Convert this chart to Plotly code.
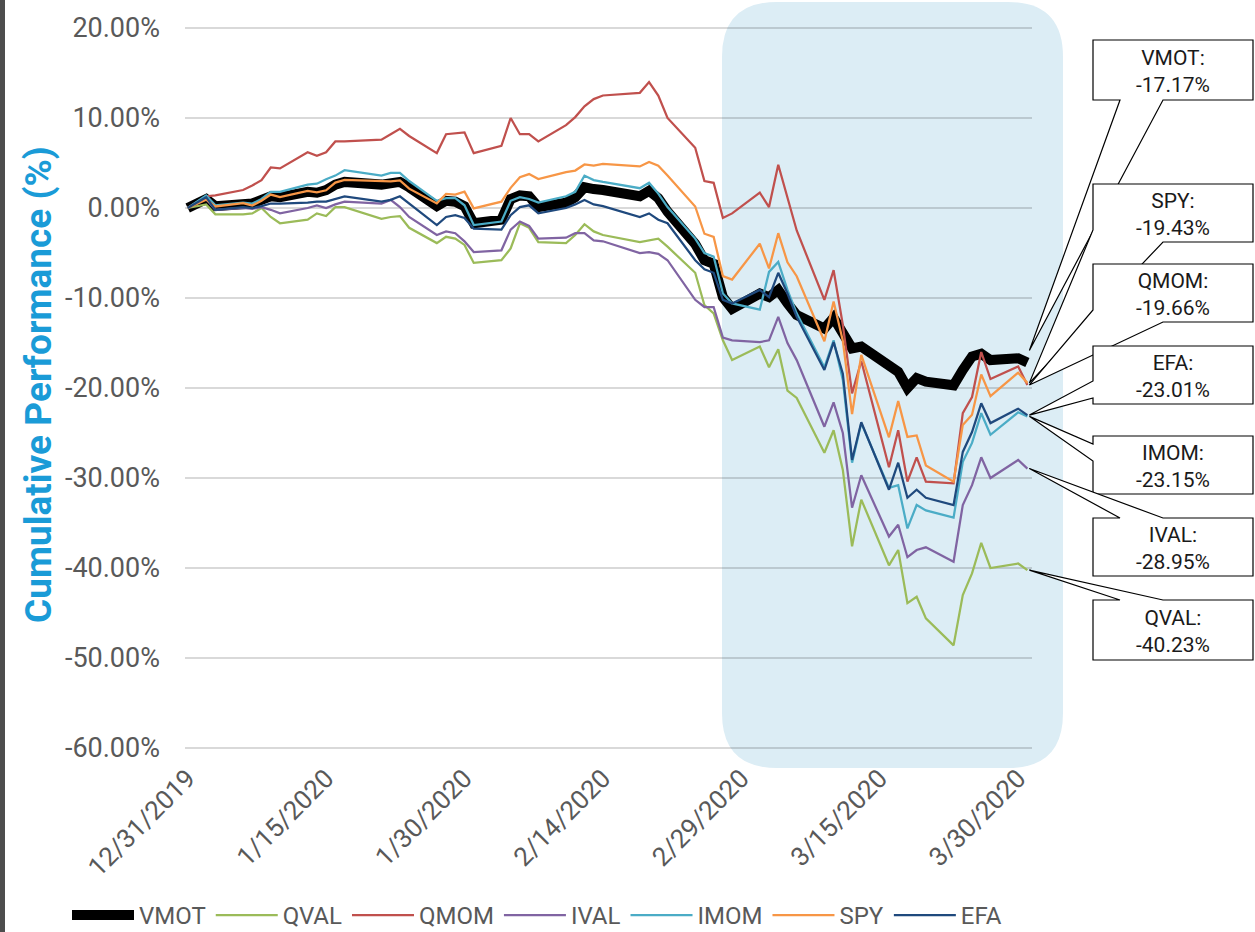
import plotly.graph_objects as go
import pandas as pd

# ---------------- data ----------------
dates = [
    "2019-12-31",
    "2020-01-02", "2020-01-03", "2020-01-06", "2020-01-07", "2020-01-08", "2020-01-09", "2020-01-10",
    "2020-01-13", "2020-01-14", "2020-01-15", "2020-01-16", "2020-01-17", "2020-01-21", "2020-01-22",
    "2020-01-23", "2020-01-24", "2020-01-27", "2020-01-28", "2020-01-29", "2020-01-30", "2020-01-31",
    "2020-02-03", "2020-02-04", "2020-02-05", "2020-02-06", "2020-02-07", "2020-02-10", "2020-02-11",
    "2020-02-12", "2020-02-13", "2020-02-14", "2020-02-18", "2020-02-19", "2020-02-20", "2020-02-21",
    "2020-02-24", "2020-02-25", "2020-02-26", "2020-02-27", "2020-02-28",
    "2020-03-02", "2020-03-03", "2020-03-04", "2020-03-05", "2020-03-06", "2020-03-09", "2020-03-10",
    "2020-03-11", "2020-03-12", "2020-03-13", "2020-03-16", "2020-03-17", "2020-03-18", "2020-03-19",
    "2020-03-20", "2020-03-23", "2020-03-24", "2020-03-25", "2020-03-26", "2020-03-27", "2020-03-30",
    "2020-03-31",
]

vmot = [0.0,
        1.0, 0.2, 0.5, 0.5, 0.9, 1.3, 1.2, 1.8, 1.7, 2.0, 2.6, 2.9, 2.6, 2.7, 2.9, 2.3, 0.2, 0.8, 0.7, 0.2, -1.7,
        -1.3, 1.0, 1.4, 1.3, 0.1, 0.6, 1.2, 2.3, 2.1, 2.0, 1.3, 1.9, 1.1, -0.4, -4.0, -5.8, -6.2, -9.9, -11.2,
        -9.5, -9.9, -9.1, -10.6, -11.9, -13.4, -12.2, -13.9, -15.6, -15.4, -17.7, -18.2, -20.0, -18.9, -19.3,
        -19.7, -18.0, -16.5, -16.2, -16.9, -16.7, -17.17]

qval = [0.0,
        0.4, -0.7, -0.7, -0.6, 0.0, -1.0, -1.7, -1.3, -0.6, -0.9, 0.1, 0.1, -1.2, -1.0, -0.9, -2.2, -3.9, -3.2, -3.4, -4.1, -6.1,
        -5.8, -4.5, -1.7, -2.2, -3.8, -3.9, -3.0, -1.8, -2.6, -3.0, -3.8, -3.6, -3.4, -4.3, -7.2, -10.8, -11.7, -14.7, -16.9,
        -15.4, -17.7, -15.7, -20.3, -21.1, -27.2, -24.7, -29.1, -37.6, -32.4, -39.7, -38.0, -43.9, -43.2, -45.6,
        -48.6, -43.0, -40.6, -37.2, -40.0, -39.5, -40.23]

qmom = [0.0,
        1.3, 1.4, 2.0, 2.5, 3.1, 4.5, 4.4, 6.2, 5.8, 6.2, 7.4, 7.4, 7.6, 8.2, 8.8, 8.0, 6.1, 8.2, 8.3, 8.4, 6.1,
        6.9, 10.0, 8.2, 8.2, 7.4, 9.2, 10.1, 11.3, 12.1, 12.5, 12.8, 14.0, 12.5, 10.0, 6.7, 3.0, 2.8, -1.1, -0.6,
        1.7, 0.1, 4.8, 1.0, -2.5, -10.2, -6.9, -13.0, -20.6, -17.0, -28.8, -24.7, -30.4, -27.7, -30.4,
        -30.6, -22.8, -21.0, -16.0, -19.0, -17.6, -19.66]

ival = [0.0,
        1.0, -0.2, 0.0, -0.1, 0.1, -0.2, -0.6, 0.0, 0.3, 0.0, 0.4, 0.7, 0.5, 0.9, 0.1, -1.0, -3.0, -2.6, -2.8, -3.7, -4.9,
        -4.7, -2.4, -1.5, -2.0, -3.4, -3.3, -2.8, -2.8, -3.6, -3.7, -5.0, -4.9, -5.1, -5.8, -10.2, -11.0, -11.0, -14.4, -14.7,
        -14.9, -14.7, -12.1, -15.0, -16.9, -24.3, -21.6, -25.0, -33.3, -29.7, -36.5, -35.2, -38.8, -38.0, -37.7,
        -39.3, -33.0, -30.8, -27.7, -30.0, -28.0, -28.95]

imom = [0.0,
        1.4, 0.3, 0.6, 0.5, 1.0, 1.8, 1.8, 2.6, 2.7, 3.2, 3.6, 4.2, 3.6, 3.9, 3.9, 3.0, 0.8, 1.1, 1.1, 0.3, -1.9,
        -1.5, 0.8, 1.2, 1.0, 0.6, 1.3, 1.8, 3.6, 3.1, 2.9, 2.2, 2.8, 1.6, 0.1, -3.4, -5.0, -5.4, -9.5, -10.6,
        -11.3, -7.1, -6.0, -9.1, -11.7, -17.7, -14.7, -19.1, -28.3, -23.9, -31.1, -30.8, -35.6, -33.0, -33.6,
        -34.4, -28.2, -26.1, -22.8, -25.2, -22.7, -23.15]

spy = [0.0,
       0.93, 0.17, 0.55, 0.27, 0.81, 1.49, 1.20, 1.89, 1.74, 1.97, 2.82, 3.13, 2.93, 2.95, 3.06, 2.15, 0.51, 1.56, 1.48, 1.81, -0.04,
       0.70, 2.24, 3.42, 3.77, 3.21, 3.98, 4.16, 4.84, 4.70, 4.89, 4.62, 5.12, 4.69, 3.61, 0.17, -2.86, -3.22, -7.57, -7.95,
       -3.97, -6.72, -2.80, -6.03, -7.58, -14.80, -10.39, -14.76, -22.91, -16.32, -25.48, -21.46, -25.43, -25.27, -28.6,
       -30.4, -24.1, -22.97, -18.5, -20.9, -18.3, -19.43]

efa = [0.0,
       1.2, -0.2, 0.1, 0.0, 0.2, 0.5, 0.5, 0.6, 0.7, 0.7, 1.0, 1.3, 0.7, 0.9, 1.3, 0.5, -1.9, -1.0, -0.8, -1.1, -2.3,
       -2.4, -0.8, 0.1, 0.3, -0.6, 0.0, 0.4, 0.9, 0.4, 0.2, -1.0, -0.6, -1.3, -1.7, -5.8, -6.8, -7.2, -10.2, -10.6,
       -9.1, -9.9, -7.2, -9.5, -12.1, -18.0, -14.9, -18.4, -28.0, -23.8, -31.3, -28.3, -32.2, -31.3, -32.2,
       -33.0, -27.1, -24.9, -21.7, -23.9, -22.3, -23.01]

series_names = ["VMOT", "QVAL", "QMOM", "IVAL", "IMOM", "SPY", "EFA"]

x_tick_dates = ["2019-12-31", "2020-01-15", "2020-01-30", "2020-02-14", "2020-02-29", "2020-03-15", "2020-03-30"]
x_tick_labels = ["12/31/2019", "1/15/2020", "1/30/2020", "2/14/2020", "2/29/2020", "3/15/2020", "3/30/2020"]
y_tick_values = [20, 10, 0, -10, -20, -30, -40, -50, -60]
y_tick_labels = ["20.00%", "10.00%", "0.00%", "-10.00%", "-20.00%", "-30.00%", "-40.00%", "-50.00%", "-60.00%"]

callout_order = ["VMOT", "SPY", "QMOM", "EFA", "IMOM", "IVAL", "QVAL"]

# ---------------- styles / layout ----------------
FONT = "Roboto, Arial, sans-serif"
GREY = "#595959"
W, H = 1255, 932
ML, MR, MT, MB = 185, 223, 19, 175
PW, PH = W - ML - MR, H - MT - MB
X_RANGE = ("2019-12-30 17:00", "2020-03-31 12:00")
Y_RANGE = (-61, 21)

styles = {
    "VMOT": ("#000000", 10),
    "QVAL": ("#9BBB59", 2.25),
    "QMOM": ("#C0504D", 2.25),
    "IVAL": ("#8064A2", 2.25),
    "IMOM": ("#4BACC6", 2.25),
    "SPY": ("#F79646", 2.25),
    "EFA": ("#1F497D", 2.25),
}
values = {"VMOT": vmot, "QVAL": qval, "QMOM": qmom, "IVAL": ival,
          "IMOM": imom, "SPY": spy, "EFA": efa}

# callout box geometry in pixels: (top, bottom, wedge kind, tip dy)
callout_geom = {
    "VMOT": (40, 100, "bottom", -12),
    "SPY": (184, 242, "corner", 0),
    "QMOM": (264, 322, "corner", 0),
    "EFA": (346, 404, "left", 0),
    "IMOM": (436, 494, "left2", 0),
    "IVAL": (518, 576, "top", 0),
    "QVAL": (600, 660, "top", 0),
}
BX0, BX1 = 1093, 1253


def px_x(px):
    return (px - ML) / PW


def px_y(py):
    return (MT + PH - py) / PH


t0, t1 = pd.Timestamp(X_RANGE[0]), pd.Timestamp(X_RANGE[1])


def data_px(date, v):
    frac = (pd.Timestamp(date) - t0) / (t1 - t0)
    return ML + frac * PW, MT + (Y_RANGE[1] - v) / (Y_RANGE[1] - Y_RANGE[0]) * PH


fig = go.Figure()
for name in series_names:
    color, width = styles[name]
    fig.add_trace(go.Scatter(
        x=dates, y=values[name], name=name, mode="lines",
        line=dict(color=color, width=width, shape="linear"),
        hoverinfo="skip",
    ))

shapes = []
# left dark strip (screenshot edge)
shapes.append(dict(type="rect", xref="paper", yref="paper",
                   x0=px_x(0), x1=px_x(5), y0=px_y(H + 5), y1=px_y(-5),
                   fillcolor="#4d4d4d", line=dict(width=0), layer="below"))

# shaded rounded region
sx0, sx1, sy0, sy1, r = 722, 1063, 2, 768, 55


def P(x, y):
    return f"{px_x(x):.5f},{px_y(y):.5f}"


rr = (f"M {P(sx0 + r, sy0)} L {P(sx1 - r, sy0)} Q {P(sx1, sy0)} {P(sx1, sy0 + r)} "
      f"L {P(sx1, sy1 - r)} Q {P(sx1, sy1)} {P(sx1 - r, sy1)} "
      f"L {P(sx0 + r, sy1)} Q {P(sx0, sy1)} {P(sx0, sy1 - r)} "
      f"L {P(sx0, sy0 + r)} Q {P(sx0, sy0)} {P(sx0 + r, sy0)} Z")
shapes.append(dict(type="path", xref="paper", yref="paper", path=rr,
                   fillcolor="#DCEDF5", line=dict(width=0), layer="below"))

annotations = []
for name in callout_order:
    top, bot, kind, tdy = callout_geom[name]
    tx, ty = data_px(dates[-1], values[name][-1])
    ty += tdy
    tx += 2
    tip = P(tx, ty)
    if kind == "bottom":
        path = (f"M {P(BX0, top)} L {P(BX1, top)} L {P(BX1, bot)} L {P(BX0 + 70, bot)} "
                f"L {tip} L {P(BX0 + 27, bot)} L {P(BX0, bot)} Z")
    elif kind == "corner":
        path = (f"M {P(BX0, top)} L {P(BX1, top)} L {P(BX1, bot)} L {P(BX0 + 70, bot)} "
                f"L {tip} L {P(BX0, bot - 12)} Z")
    elif kind == "left":
        path = (f"M {P(BX0, top)} L {P(BX1, top)} L {P(BX1, bot)} L {P(BX0, bot)} "
                f"L {P(BX0, top + 52)} L {tip} L {P(BX0, top + 35)} Z")
    elif kind == "left2":
        path = (f"M {P(BX0, top)} L {P(BX1, top)} L {P(BX1, bot)} L {P(BX0, bot)} "
                f"L {P(BX0, top + 25)} L {tip} L {P(BX0, top + 8)} Z")
    else:  # top
        path = (f"M {P(BX0, top)} L {P(BX0 + 27, top)} L {tip} L {P(BX0 + 70, top)} "
                f"L {P(BX1, top)} L {P(BX1, bot)} L {P(BX0, bot)} Z")
    shapes.append(dict(type="path", xref="paper", yref="paper", path=path,
                       fillcolor="white", line=dict(color="#000000", width=1.2),
                       layer="above"))
    annotations.append(dict(
        xref="paper", yref="paper", x=px_x((BX0 + BX1) / 2), y=px_y((top + bot) / 2 + 1),
        xanchor="center", yanchor="middle", showarrow=False,
        text=f"{name}:<br>{values[name][-1]:.2f}%",
        font=dict(family=FONT, size=21, color="#1a1a1a"),
    ))

# y axis title
annotations.append(dict(
    xref="paper", yref="paper", x=px_x(38), y=px_y(385), xanchor="center", yanchor="middle",
    showarrow=False, textangle=-90, text="<b>Cumulative Performance (%)</b>",
    font=dict(family=FONT, size=37, color="#1A9BD7"),
))

fig.update_layout(
    width=W, height=H,
    margin=dict(l=ML, r=MR, t=MT, b=MB, autoexpand=False),
    paper_bgcolor="white", plot_bgcolor="rgba(0,0,0,0)",
    font=dict(family=FONT, color=GREY),
    shapes=shapes, annotations=annotations,
    showlegend=True,
    legend=dict(orientation="h", x=px_x(67), y=px_y(893), xanchor="left", yanchor="top",
                font=dict(family=FONT, size=24, color=GREY), bgcolor="rgba(0,0,0,0)",
                itemwidth=62, tracegroupgap=0),
)
fig.update_xaxes(
    type="date", range=list(X_RANGE), showgrid=False, zeroline=False, showline=False,
    tickmode="array", tickvals=x_tick_dates, ticktext=x_tick_labels, tickangle=-45,
    tickfont=dict(family=FONT, size=26, color=GREY), ticks="",
)
fig.update_yaxes(
    range=list(Y_RANGE), showgrid=True, gridcolor="rgba(0,0,0,0.15)", gridwidth=2,
    zeroline=False, showline=False, tickmode="array", tickvals=y_tick_values,
    ticktext=y_tick_labels, tickfont=dict(family=FONT, size=27, color=GREY), ticks="",
    ticklabelstandoff=24,
)

fig.write_html("out.html", config={"displayModeBar": False},
               post_script="document.body.style.margin='0px';")
